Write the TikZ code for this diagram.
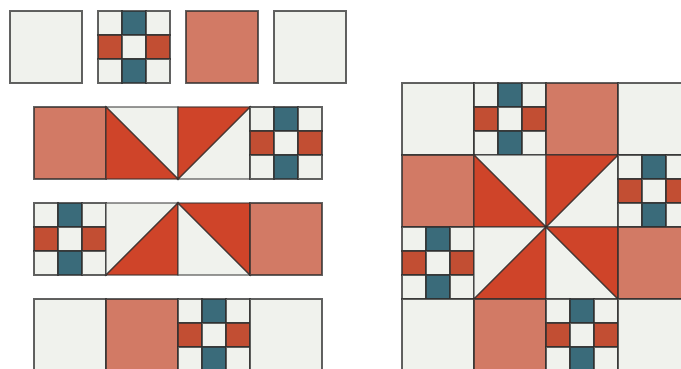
\documentclass[tikz,border=0pt]{standalone}
\definecolor{lightc}{HTML}{F0F2ED}
\definecolor{tealc}{HTML}{3A6B7A}
\definecolor{ninered}{HTML}{C24E33}
\definecolor{salmonc}{HTML}{D27A65}
\definecolor{hstred}{HTML}{CF4429}
\definecolor{edgec}{HTML}{2E2E2E}
\tikzset{
  x=1pt,y=-1pt,
  piece/.style={draw=edgec,draw opacity=0.75,line width=1.2pt,line join=miter},
  plainsq/.pic={\path[piece,fill=#1] (0,0) rectangle (72,72);},
  hstA/.pic={
    \path[piece,fill=lightc] (0,0) -- (72,0) -- (72,72) -- cycle;
    \path[piece,fill=hstred] (0,0) -- (0,72) -- (72,72) -- cycle;},
  hstB/.pic={
    \path[piece,fill=lightc] (72,0) -- (72,72) -- (0,72) -- cycle;
    \path[piece,fill=hstred] (0,0) -- (72,0) -- (0,72) -- cycle;},
  hstC/.pic={
    \path[piece,fill=lightc] (0,0) -- (72,0) -- (0,72) -- cycle;
    \path[piece,fill=hstred] (72,0) -- (72,72) -- (0,72) -- cycle;},
  hstD/.pic={
    \path[piece,fill=lightc] (0,0) -- (0,72) -- (72,72) -- cycle;
    \path[piece,fill=hstred] (0,0) -- (72,0) -- (72,72) -- cycle;},
  ninepatch/.pic={
    \foreach \i/\j/\c in {0/0/lightc,1/0/tealc,2/0/lightc,
                          0/1/ninered,1/1/lightc,2/1/ninered,
                          0/2/lightc,1/2/tealc,2/2/lightc}{
      \path[piece,fill=\c] (24*\i,24*\j) rectangle ++(24,24);}},
}
\begin{document}
\begin{tikzpicture}
\useasboundingbox (0,0) rectangle (681,369);
\fill[white] (0,0) rectangle (681,369);
% top row of single blocks
\pic at (10,11) {plainsq=lightc};
\pic at (98,11) {ninepatch};
\pic at (186,11) {plainsq=salmonc};
\pic at (274,11) {plainsq=lightc};
% rows
\pic at (34,107) {plainsq=salmonc};
\pic at (106,107) {hstA};
\pic at (178,107) {hstB};
\pic at (250,107) {ninepatch};
\pic at (34,203) {ninepatch};
\pic at (106,203) {hstC};
\pic at (178,203) {hstD};
\pic at (250,203) {plainsq=salmonc};
\pic at (34,299) {plainsq=lightc};
\pic at (106,299) {plainsq=salmonc};
\pic at (178,299) {ninepatch};
\pic at (250,299) {plainsq=lightc};
% big block
\begin{scope}[shift={(402,83)}]
\pic at (0,0) {plainsq=lightc};
\pic at (72,0) {ninepatch};
\pic at (144,0) {plainsq=salmonc};
\pic at (216,0) {plainsq=lightc};
\pic at (0,72) {plainsq=salmonc};
\pic at (72,72) {hstA};
\pic at (144,72) {hstB};
\pic at (216,72) {ninepatch};
\pic at (0,144) {ninepatch};
\pic at (72,144) {hstC};
\pic at (144,144) {hstD};
\pic at (216,144) {plainsq=salmonc};
\pic at (0,216) {plainsq=lightc};
\pic at (72,216) {plainsq=salmonc};
\pic at (144,216) {ninepatch};
\pic at (216,216) {plainsq=lightc};
\end{scope}
\end{tikzpicture}
\end{document}
